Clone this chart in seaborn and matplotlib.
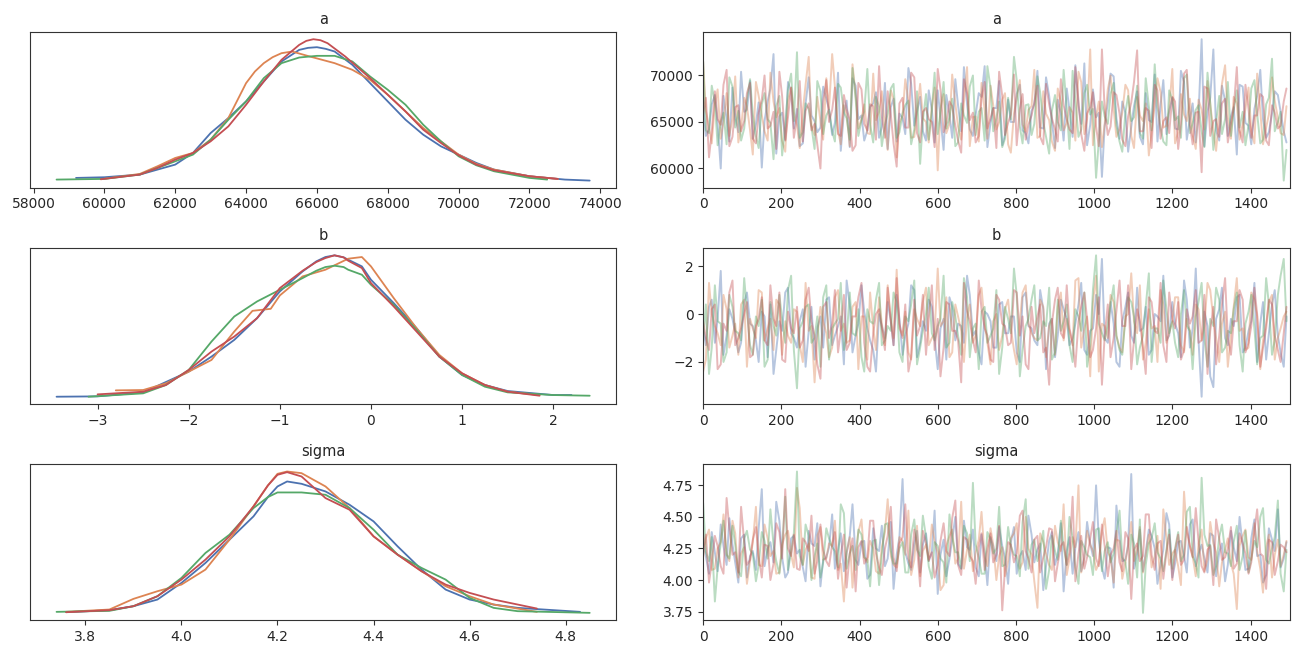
import numpy as np
import pandas as pd
import seaborn as sns
import matplotlib.pyplot as plt

sns.set_style("ticks")
plt.rcParams['font.family'] = ['DejaVu Sans']

chain_colors = ['#4c72b0', '#dd8452', '#55a868', '#c44e52']
params = ['a', 'b', 'sigma']

# ---- posterior density (relative height) ----
a_x_c0 = [59200, 60000, 61000, 62000, 62500, 63000, 63500, 64000, 64500, 65000, 65500, 65750, 66000, 66250,
          66500, 67000, 67500, 68000, 68500, 69000, 69500, 70000, 70500, 71000, 72000, 73000, 73700]
a_h_c0 = [10, 12, 20, 50, 85, 145, 190, 240, 300, 360, 395, 401, 403, 398,
          390, 350, 295, 240, 185, 140, 105, 80, 55, 35, 15, 5, 2]
a_x_c1 = [59900, 61000, 61500, 62000, 62500, 63000, 63500, 64000, 64250, 64500, 64750, 65000, 65300, 65800,
          66500, 67000, 67500, 68000, 68500, 69000, 69500, 70000, 70500, 71000, 72000, 72800]
a_h_c1 = [6, 22, 45, 70, 85, 125, 190, 295, 330, 355, 373, 385, 390, 375,
          355, 335, 305, 260, 210, 160, 120, 80, 52, 35, 15, 7]
a_x_c2 = [58650, 60000, 61000, 62000, 62500, 63000, 63500, 64000, 64500, 65000, 65500, 66000,
          66500, 67000, 67500, 68000, 68500, 69000, 69500, 70000, 70500, 71000, 72000, 72500]
a_h_c2 = [5, 7, 20, 60, 80, 125, 185, 240, 310, 355, 372, 377,
          377, 360, 315, 275, 230, 170, 120, 75, 48, 30, 10, 5]
a_x_c3 = [59900, 61000, 61500, 62000, 62500, 63000, 63500, 64000, 64500, 65000, 65500, 65700, 65900,
          66100, 66300, 66800, 67500, 68000, 68500, 69000, 69500, 70000, 70500, 71000, 72000, 72800]
a_h_c3 = [6, 20, 40, 65, 85, 120, 165, 230, 300, 365, 410, 422, 427,
          424, 415, 375, 310, 260, 210, 155, 115, 78, 50, 33, 15, 7]

b_x_c0 = [-3.45, -3.0, -2.5, -2.0, -1.75, -1.5, -1.25, -1.0, -0.75, -0.6, -0.5, -0.4, -0.3,
          -0.25, -0.1, 0.0, 0.25, 0.5, 0.75, 1.0, 1.25, 1.5, 2.0, 2.2]
b_h_c0 = [5, 6, 18, 80, 125, 175, 240, 320, 380, 410, 423, 428, 422,
          415, 395, 355, 285, 210, 125, 70, 40, 22, 10, 10]
b_x_c1 = [-2.8, -2.5, -2.25, -2.0, -1.75, -1.5, -1.3, -1.1, -1.0, -0.75, -0.5,
          -0.25, -0.1, 0.0, 0.25, 0.5, 0.75, 1.0, 1.25, 1.5, 1.85]
b_h_c1 = [24, 25, 45, 80, 115, 200, 262, 268, 308, 365, 385,
          418, 423, 395, 300, 210, 130, 75, 40, 20, 10]
b_x_c2 = [-3.1, -2.5, -2.25, -2.0, -1.75, -1.5, -1.25, -1.0, -0.75, -0.6, -0.5, -0.4, -0.3,
          -0.25, -0.1, 0.0, 0.25, 0.5, 0.75, 1.0, 1.25, 1.5, 2.0, 2.4]
b_h_c2 = [5, 15, 40, 85, 170, 245, 290, 325, 360, 382, 393, 397, 393,
          385, 370, 340, 280, 205, 125, 70, 35, 18, 10, 8]
b_x_c3 = [-3.0, -2.5, -2.25, -2.0, -1.75, -1.5, -1.25, -1.0, -0.75, -0.6, -0.5,
          -0.4, -0.3, -0.25, -0.1, 0.0, 0.25, 0.5, 0.75, 1.0, 1.25, 1.5, 1.85]
b_h_c3 = [12, 20, 40, 85, 140, 185, 240, 330, 382, 408, 420,
          428, 422, 412, 390, 345, 275, 200, 125, 75, 40, 20, 8]

s_x_c0 = [3.76, 3.85, 3.9, 3.95, 4.0, 4.05, 4.1, 4.15, 4.18, 4.2, 4.22, 4.25, 4.3, 4.35,
          4.37, 4.4, 4.45, 4.5, 4.55, 4.6, 4.65, 4.7, 4.83]
s_h_c0 = [4, 10, 22, 42, 92, 152, 222, 292, 350, 382, 397, 390, 367, 327,
          307, 277, 202, 132, 72, 42, 27, 17, 5]
s_x_c1 = [3.76, 3.85, 3.9, 3.95, 4.0, 4.05, 4.1, 4.15, 4.18, 4.2, 4.22, 4.25, 4.3, 4.35,
          4.4, 4.45, 4.5, 4.55, 4.6, 4.65, 4.74]
s_h_c1 = [5, 12, 44, 67, 87, 132, 222, 322, 385, 420, 427, 422, 382, 317,
          232, 177, 127, 82, 52, 27, 5]
s_x_c2 = [3.74, 3.85, 3.9, 3.95, 4.0, 4.05, 4.1, 4.15, 4.18, 4.2, 4.25, 4.3, 4.35, 4.4,
          4.45, 4.5, 4.55, 4.6, 4.65, 4.7, 4.85]
s_h_c2 = [5, 8, 22, 52, 107, 182, 237, 317, 350, 364, 364, 357, 317, 252,
          177, 137, 102, 47, 17, 7, 2]
s_x_c3 = [3.76, 3.85, 3.9, 3.95, 4.0, 4.05, 4.1, 4.15, 4.18, 4.2, 4.22, 4.25, 4.3, 4.35,
          4.4, 4.45, 4.5, 4.55, 4.6, 4.65, 4.74]
s_h_c3 = [4, 10, 22, 52, 102, 162, 232, 322, 385, 417, 425, 412, 347, 312,
          232, 177, 127, 87, 62, 42, 15]

# ---- traces: values every 15 draws, plus a second set 7 draws later ----
draws = list(range(0, 1500, 15))
draws_mid = list(range(7, 1500, 15))

a_c0 = [66800, 64200, 67900, 60000, 65300, 68700, 63900, 66100, 69400, 64800,
        60100, 67200, 72300, 65600, 63100, 68200, 66400, 62700, 69800, 65100,
        64400, 67500, 63600, 70300, 66000, 62300, 68900, 65700, 64100, 67000,
        63300, 69200, 66600, 62900, 65400, 70800, 64600, 67700, 63000, 66300,
        68400, 62000, 65800, 69600, 64000, 66900, 63500, 68100, 71000, 64900,
        66500, 62500, 67400, 65000, 69000, 63800, 66200, 70500, 64300, 67800,
        62200, 65900, 68600, 63400, 66700, 71300, 64700, 65500, 59100, 67100,
        69900, 63200, 66000, 64500, 68300, 62600, 65200, 70100, 66800, 63700,
        67600, 64200, 69300, 65300, 62800, 73900, 66100, 72800, 63000, 67300,
        65600, 61500, 68800, 64600, 66400, 70600, 63300, 65900, 67900, 64000]
a_c1 = [71500, 64500, 66900, 63200, 68100, 65400, 62800, 67600, 64100, 69300,
        65800, 63000, 67200, 66500, 61800, 68700, 64700, 66200, 72000, 63600,
        65100, 69700, 72300, 64000, 66800, 62400, 67900, 65300, 63800, 70200,
        66100, 64400, 68400, 61200, 65700, 67300, 63400, 69100, 65000, 66600,
        59800, 68000, 64800, 67000, 63100, 70900, 65500, 62900, 66300, 68900,
        64200, 67400, 62600, 65900, 69500, 64000, 66700, 63300, 68300, 65200,
        61900, 67100, 64900, 66000, 70400, 63700, 72800, 65600, 62300, 68500,
        66400, 64300, 69000, 63500, 67700, 65100, 61400, 66900, 68200, 64600,
        70700, 63900, 65800, 67500, 62100, 66300, 69400, 64100, 65700, 71100,
        63200, 67000, 64800, 68700, 62700, 66200, 64400, 69800, 65400, 63600]
a_c2 = [71500, 63800, 67100, 65000, 62600, 68800, 66200, 64300, 69600, 63500,
        66900, 65300, 61000, 67800, 64600, 70200, 72500, 63900, 66400, 62100,
        68300, 65700, 64000, 69100, 66000, 63100, 67500, 65200, 70700, 62800,
        66600, 64700, 68600, 63300, 65900, 67300, 64200, 60500, 68000, 66300,
        63700, 69300, 65500, 62400, 67000, 64900, 70000, 66100, 63000, 68700,
        65400, 62300, 67600, 72000, 64500, 66800, 63600, 69900, 65000, 61600,
        67900, 64100, 66500, 70500, 63400, 68100, 65800, 59000, 67200, 64800,
        69200, 62900, 66000, 65100, 68900, 63200, 66700, 71200, 64400, 62500,
        67400, 65600, 69700, 63800, 66300, 64000, 70300, 62000, 67800, 65300,
        63500, 68400, 66100, 64700, 69500, 62700, 66900, 71800, 65000, 58700]
a_c3 = [65900, 61200, 68300, 64700, 70600, 63400, 66800, 65100, 69200, 62700,
        67400, 64300, 66100, 70400, 63000, 68700, 65600, 62900, 67000, 64800,
        60000, 69500, 66300, 63700, 67900, 65200, 62500, 68500, 64100, 66700,
        71000, 63300, 65800, 60200, 67600, 64400, 69800, 62800, 66500, 65000,
        70700, 63900, 67200, 64600, 61700, 68100, 66000, 63500, 69300, 65400,
        62200, 67800, 64900, 70100, 66400, 63100, 65700, 68900, 62600, 66900,
        64200, 69600, 65300, 63800, 67300, 61900, 66600, 64500, 72800, 63600,
        68200, 65900, 62400, 67100, 72700, 64000, 66200, 69000, 63200, 65500,
        67700, 62100, 70200, 64700, 66000, 59600, 68600, 65100, 63400, 67500,
        64900, 70900, 62800, 66400, 65700, 68000, 63000, 66800, 64300, 67200]

a_c0_mid = [63500, 66900, 64800, 67800, 62900, 65600, 70400, 66300, 63200, 67100,
            65100, 68600, 61600, 66000, 69300, 64300, 62400, 67000, 65700, 63900,
            68800, 66400, 64900, 61900, 67300, 69700, 65300, 63000, 66600, 68200,
            64500, 62100, 67500, 65900, 63700, 69100, 66100, 64000, 68400, 62800,
            65500, 67900, 63300, 66800, 70900, 64200, 65800, 67700, 62300, 66500,
            69400, 63600, 65000, 68000, 64100, 62700, 66900, 64400, 69800, 65100,
            67400, 63000, 66300, 71100, 64800, 62500, 68500, 66000, 64600, 70200,
            65400, 67200, 61800, 66700, 63400, 68100, 65000, 62900, 69500, 66200,
            64300, 70500, 63100, 67000, 65700, 62400, 67600, 64100, 68900, 63500,
            66600, 69000, 64900, 62600, 67800, 65300, 63900, 68300, 66100, 62800]
a_c1_mid = [66200, 62700, 68500, 65000, 63500, 69900, 64400, 66700, 61500, 67800,
            64000, 70300, 65500, 63000, 67300, 66000, 62200, 69000, 64600, 67700,
            63100, 66400, 68800, 62600, 65800, 71200, 64300, 66900, 63700, 65200,
            68300, 62000, 67500, 64900, 69600, 63300, 66100, 65400, 62800, 68700,
            66500, 63800, 70100, 64500, 67100, 62400, 65600, 69200, 63200, 66800,
            65000, 68100, 61700, 67600, 64700, 66300, 70600, 63500, 65900, 62900,
            68600, 64100, 66600, 63000, 69300, 65300, 62500, 67200, 64800, 70000,
            63400, 66000, 68400, 62200, 65700, 67000, 63900, 69700, 64400, 66200,
            62700, 68000, 65100, 63600, 67400, 64200, 66900, 61900, 69100, 65500,
            67700, 63100, 66400, 64000, 70200, 62600, 65800, 67300, 63800, 66700]
a_c2_mid = [64100, 68900, 62500, 66000, 69800, 64400, 63000, 67400, 65800, 62200,
            68100, 64900, 66700, 61400, 68500, 65100, 63300, 67000, 64500, 69400,
            63700, 66300, 62900, 68700, 65400, 70800, 63500, 66100, 64700, 67700,
            62400, 65900, 69100, 63900, 66800, 62600, 68300, 65200, 63100, 70300,
            66000, 64300, 67500, 62800, 65700, 68800, 63600, 66500, 71000, 64000,
            67200, 63200, 65300, 69500, 62700, 66900, 64800, 68200, 63400, 66200,
            65000, 70600, 62100, 67300, 64200, 69000, 66400, 63000, 65600, 68000,
            64600, 61800, 67800, 65500, 63800, 69700, 64100, 66600, 62900, 68400,
            65200, 63300, 70100, 64900, 66800, 62300, 67100, 65000, 63700, 69300,
            66300, 64400, 62500, 68600, 65900, 63100, 67600, 64000, 66100, 62000]
a_c3_mid = [67600, 63900, 65300, 69000, 62400, 66600, 64000, 68100, 63200, 66000,
            70000, 64600, 62100, 67800, 65500, 63300, 69400, 66200, 64100, 62600,
            67200, 65000, 68700, 63500, 66400, 61900, 69200, 64800, 66900, 63100,
            65600, 68300, 62700, 67000, 64400, 70300, 63800, 66100, 65300, 62300,
            68500, 64900, 66700, 63000, 69600, 65200, 62800, 67500, 64300, 66500,
            70400, 63600, 65800, 62500, 68000, 64700, 67100, 63400, 69100, 65400,
            62900, 66800, 64200, 70900, 63700, 65900, 68200, 62400, 66300, 64500,
            67900, 63100, 65600, 69300, 64000, 66500, 62200, 68400, 65100, 63800,
            67200, 64800, 70600, 62600, 66100, 68800, 63500, 65300, 67000, 62800,
            66400, 64100, 69000, 63300, 65700, 67700, 62500, 66000, 64600, 68600]

b_c0 = [-0.6, 0.3, -1.2, 1.8, -0.9, -0.2, -1.6, 0.5, -0.4, -1.1,
        0.1, -1.8, -2.5, -0.3, 0.9, -0.8, -1.4, 0.2, -0.7, -1.9,
        -0.1, 0.6, -1.3, -0.5, -2.1, 0.4, -0.9, 1.2, -0.6, -1.5,
        0.0, -1.0, -0.3, 0.8, -1.7, -0.4, 1.0, -1.2, -0.7, 0.3,
        -2.3, -0.2, 0.7, -1.1, -0.5, 1.6, -0.9, -1.6, 0.1, -0.3,
        -1.4, 0.5, -0.8, -0.1, -2.0, 0.9, -0.6, -1.3, 0.2, -0.4,
        -1.8, 0.6, -0.2, -1.0, 0.4, -1.5, -0.7, 0.8, 2.3, -1.2,
        -0.4, -2.2, 0.3, -0.9, 1.1, -0.6, -1.7, 0.0, -0.3, -1.1,
        0.5, -0.8, 1.4, -1.4, 1.9, -3.45, -0.5, -3.05, 0.2, -1.0,
        -0.2, 0.7, -1.6, -0.7, 1.3, -0.4, -1.9, 0.4, -0.9, -2.2]
b_c1 = [-2.4, 1.3, -0.5, -1.3, 0.2, -0.9, -1.7, 0.6, -0.2, -1.0,
        0.9, -0.6, -1.5, 0.4, -0.3, -1.2, 0.1, -2.0, -0.7, -2.85,
        0.3, -0.8, -1.4, 1.0, -0.4, -1.1, 0.5, -0.1, -1.9, -0.6,
        0.7, -1.3, -0.2, 1.85, -0.9, -1.6, 0.2, -0.5, 1.1, -1.0,
        1.9, -0.3, -1.8, 0.4, -0.7, -0.1, -1.2, 0.8, -0.4, -2.1,
        0.0, -0.9, 0.6, -1.5, -0.3, 1.2, -0.8, -1.1, 0.3, -0.5,
        -1.7, 0.9, -0.2, -1.3, 1.5, -0.6, -2.6, 1.6, -0.4, -1.0,
        0.5, -1.4, -0.1, 1.7, -0.8, -1.9, 0.2, -0.5, 1.0, -1.2,
        -0.3, 0.7, -1.6, -0.7, 0.4, -1.1, 1.3, -0.2, -2.0, 0.1,
        -0.9, 1.5, -0.6, -1.4, 0.6, -2.3, -0.4, 0.8, -1.0, -0.1]
b_c2 = [-1.1, -2.5, 1.2, -0.4, -1.6, 0.3, -0.8, 1.5, -1.3, -0.1,
        0.6, -1.9, -0.5, 0.8, -1.2, 1.6, -3.1, -0.3, 0.4, -1.0,
        -2.2, 1.2, -0.6, -0.2, -1.5, 0.9, -0.9, -1.8, 0.2, -0.4,
        1.3, -1.1, -0.7, 0.5, -2.0, -0.3, 1.4, -1.4, 0.0, -0.8,
        -0.5, 1.6, -1.2, -0.1, -1.7, 0.7, -0.6, -2.3, 0.3, -0.9,
        1.0, -1.4, -0.2, 1.9, -2.6, -0.5, 0.6, -1.1, -0.3, 1.1,
        -1.6, -0.7, 0.4, -2.0, -0.1, 0.9, -1.3, 2.45, -0.8, -0.4,
        1.2, -1.5, -0.2, 0.5, -2.1, -0.9, 1.7, -0.6, -1.2, 0.2,
        -0.3, -1.8, 1.0, -0.7, -0.1, 1.3, -2.2, -0.5, 0.6, -1.4,
        -0.8, 0.9, -2.4, 0.1, -0.6, -1.0, 1.5, -1.7, 0.8, 2.3]
b_c3 = [-0.3, -1.5, 0.4, -2.1, -0.7, 1.4, -1.0, 0.0, -1.8, -0.5,
        0.7, -1.3, -0.2, 0.9, -2.0, -0.6, 0.3, -1.1, 1.1, -0.9,
        -2.7, 0.5, -0.4, -1.6, 0.8, -1.2, -0.1, 1.3, -2.2, -0.8,
        0.2, -1.5, -0.3, 1.5, -1.0, -2.4, 0.6, -0.5, -1.7, 1.2,
        -0.2, -1.4, 0.4, -0.7, -2.85, 0.1, -1.1, 1.4, -0.6, -1.9,
        0.8, -0.4, -1.3, 1.0, -0.9, -2.1, 0.3, -0.1, -1.6, -2.95,
        0.6, -0.8, 1.2, -1.2, -0.3, 0.9, -1.8, -0.6, -2.95, 0.4,
        -1.0, 1.4, -0.5, -2.3, 0.2, -1.4, 0.7, -0.7, 1.3, -2.0,
        -0.2, 0.5, -1.5, -0.4, 1.0, -1.1, -2.5, 0.3, -0.9, 1.5,
        -1.7, -0.3, 0.6, -1.2, 1.1, -2.2, -0.6, 0.4, -1.5, -0.8]

b_c0_mid = [-1.3, 0.6, -0.2, -1.7, 0.2, -0.8, -1.2, 0.9, -0.5, -2.0,
            -0.1, 0.4, -1.5, -0.7, 1.1, -1.0, -0.3, -2.2, 0.3, -0.6,
            -1.4, 0.7, -0.9, -0.1, 1.4, -1.6, -0.4, 0.1, -1.1, -2.4,
            -0.5, 0.5, -1.3, -0.2, -0.9, 1.2, -1.8, -0.3, 0.6, -1.0,
            -0.6, -1.9, 0.3, -0.4, -1.2, 0.8, -0.7, -2.1, 0.0, -1.4,
            0.4, -0.8, -0.1, -1.6, 0.7, -0.5, -1.1, 1.0, -2.3, -0.2,
            -0.9, 0.2, -1.3, -0.4, 1.3, -1.7, -0.6, 0.0, -1.0, 0.5,
            -2.0, -0.3, 0.9, -1.2, -0.7, 0.3, -1.5, -0.1, 1.6, -0.9,
            -0.4, -1.8, 0.6, -0.6, -1.1, 0.1, -2.6, -0.2, 1.1, -1.3,
            -0.5, 0.8, -1.4, -0.3, -2.0, 0.5, -0.8, 1.0, -1.6, -0.1]
b_c1_mid = [-1.9, 0.0, -0.8, 0.8, -1.4, -0.4, 0.4, -2.2, -0.6, 1.0,
            -1.1, -0.2, 0.6, -1.7, -0.9, 0.2, -1.3, 1.3, -0.5, -1.0,
            -0.3, -1.8, 0.7, -0.7, -1.2, 0.3, -2.3, -0.1, 0.9, -1.5,
            -0.4, 1.2, -1.0, -0.6, 0.1, -1.9, -0.2, 0.5, -1.3, -0.8,
            -0.5, 0.7, -1.6, -0.1, -2.0, 0.4, -0.9, 1.1, -1.2, -0.3,
            -1.5, 0.2, -0.6, -2.1, 0.9, -0.4, -1.0, 0.6, -1.8, -0.2,
            0.3, -1.1, -0.7, 1.4, -1.4, -0.1, 0.5, -2.4, -0.5, 0.8,
            -0.9, -1.6, 0.0, -0.3, 1.2, -1.2, -0.6, -2.0, 0.4, -0.8,
            0.7, -1.3, -0.2, -1.7, 0.2, -0.5, 1.0, -1.0, -0.4, -2.2,
            0.3, -0.7, -1.5, 0.9, -0.1, -1.1, 0.5, -1.9, -0.6, 0.1]
b_c2_mid = [0.4, -1.4, -0.3, -2.0, 0.8, -0.7, -1.1, 0.1, -1.7, -0.5,
            -2.2, 0.5, -0.9, -0.2, 1.0, -1.5, -0.6, 0.3, -1.2, -0.1,
            0.7, -1.9, -0.4, 1.3, -1.0, -0.8, 0.2, -2.4, -0.3, 0.6,
            -1.3, -0.5, 0.9, -1.6, -0.1, 0.4, -2.1, -0.7, 1.1, -1.1,
            -0.2, -1.4, 0.5, -0.9, 1.5, -1.8, -0.4, 0.1, -1.2, -0.6,
            -2.5, 0.3, -0.8, 0.8, -1.5, -0.2, 1.2, -1.0, -0.5, -1.9,
            0.6, -0.3, -1.3, 0.2, -0.7, -2.2, 1.0, -0.4, -1.1, 0.4,
            -0.9, -1.7, 0.7, -0.1, -1.4, 0.3, -2.0, -0.6, 1.4, -0.8,
            -1.2, 0.0, -0.5, -2.3, 0.5, -1.0, -0.2, 1.1, -1.6, -0.7,
            0.2, -1.3, -0.4, 0.8, -2.1, -0.9, 0.4, -1.1, 1.6, -0.3]
b_c3_mid = [-1.0, 0.2, -2.3, -0.4, 0.9, -1.3, -0.6, 0.5, -1.7, -0.2,
            -1.1, 1.2, -0.5, -1.9, 0.1, -0.8, -1.4, 0.6, -0.3, -2.1,
            0.3, -1.0, 1.0, -0.7, -1.5, -0.1, 0.7, -1.2, -2.4, 0.0,
            -0.6, 1.1, -1.3, -0.4, 0.4, -1.8, -0.9, 0.8, -0.2, -1.5,
            -2.6, 0.5, -0.7, -1.1, 1.3, -0.3, -1.6, 0.2, -0.9, -2.0,
            0.6, -0.5, -1.2, 0.9, -0.1, -2.3, -0.8, 0.4, -1.4, -0.4,
            1.1, -1.0, -0.6, -2.2, 0.3, -0.2, -1.5, 0.7, -0.9, -1.8,
            0.1, -0.5, 1.2, -1.1, -0.3, -2.5, 0.5, -0.8, -1.3, 0.9,
            -0.6, -1.9, 0.2, -0.1, -1.2, 0.8, -0.7, -2.1, 0.4, -1.0,
            -0.3, 1.0, -1.6, -0.5, 0.0, -1.4, 0.6, -0.9, -2.0, 0.3]

s_c0 = [4.31, 4.05, 4.22, 4.44, 4.12, 4.28, 3.98, 4.36, 4.19, 4.08,
        4.72, 4.25, 4.14, 4.47, 4.02, 4.33, 4.21, 4.10, 4.39, 4.27,
        3.95, 4.18, 4.52, 4.24, 4.07, 4.35, 4.16, 4.30, 4.01, 4.41,
        4.23, 4.11, 4.46, 4.20, 4.80, 4.13, 4.29, 4.06, 4.37, 4.22,
        3.89, 4.32, 4.17, 4.50, 4.09, 4.26, 4.40, 4.03, 4.21, 4.34,
        4.15, 4.27, 3.97, 4.42, 4.19, 4.08, 4.36, 4.24, 3.92, 4.31,
        4.12, 4.45, 4.23, 4.05, 4.38, 4.18, 4.29, 4.75, 4.10, 4.26,
        3.94, 4.33, 4.16, 4.84, 4.21, 4.07, 4.40, 4.25, 4.13, 4.53,
        4.02, 4.30, 4.19, 4.44, 4.11, 4.28, 4.06, 4.35, 4.22, 3.99,
        4.39, 4.15, 4.27, 4.09, 4.48, 4.20, 4.04, 4.32, 4.56, 4.17]
s_c1 = [4.18, 4.40, 4.09, 4.30, 4.21, 4.47, 4.02, 4.26, 4.15, 4.58,
        4.11, 4.33, 4.23, 4.06, 4.36, 4.20, 4.73, 4.12, 4.29, 4.01,
        4.42, 4.17, 4.27, 4.08, 3.83, 4.34, 4.22, 4.48, 4.14, 4.25,
        4.05, 4.38, 4.19, 4.10, 4.31, 4.55, 4.16, 4.03, 4.28, 4.44,
        4.21, 3.96, 4.35, 4.13, 4.62, 4.24, 4.07, 4.32, 4.18, 4.41,
        4.00, 4.26, 4.15, 4.37, 4.09, 4.50, 4.20, 3.78, 4.30, 4.12,
        4.43, 4.23, 4.04, 4.34, 4.75, 4.17, 4.28, 4.08, 4.39, 4.22,
        3.98, 4.31, 4.14, 4.46, 4.25, 4.06, 4.36, 4.19, 3.93, 4.33,
        4.21, 4.11, 4.70, 4.27, 4.03, 4.40, 4.16, 4.29, 3.95, 4.24,
        4.13, 3.77, 4.35, 4.18, 4.45, 4.09, 4.26, 4.02, 4.32, 4.20]
s_c2 = [4.61, 4.15, 3.83, 4.29, 4.20, 4.43, 4.07, 4.33, 4.24, 3.99,
        4.38, 4.17, 4.28, 4.05, 4.66, 4.22, 4.86, 4.12, 4.35, 4.19,
        4.02, 4.41, 4.26, 4.10, 4.53, 4.21, 4.08, 4.36, 4.16, 4.31,
        3.96, 4.44, 4.23, 4.13, 4.30, 4.06, 4.48, 4.19, 4.34, 4.01,
        4.27, 4.14, 4.52, 4.22, 4.09, 4.37, 4.77, 4.18, 4.05, 4.32,
        4.25, 4.11, 4.42, 4.20, 4.03, 4.64, 4.28, 4.15, 4.39, 4.08,
        4.23, 4.47, 4.12, 4.33, 3.97, 4.26, 4.18, 4.40, 4.07, 4.30,
        4.21, 4.55, 4.14, 4.36, 4.02, 3.74, 4.29, 4.45, 4.17, 4.24,
        4.09, 4.38, 4.20, 4.58, 4.13, 4.81, 4.27, 4.04, 4.34, 4.22,
        4.11, 4.43, 4.19, 4.06, 4.31, 4.50, 4.16, 4.25, 4.63, 3.91]
s_c3 = [4.24, 3.98, 4.35, 4.11, 4.65, 4.20, 4.06, 4.30, 4.16, 4.42,
        4.02, 4.27, 4.13, 4.38, 4.72, 4.19, 4.09, 4.33, 4.23, 4.05,
        4.44, 4.15, 4.28, 4.01, 4.36, 4.21, 3.91, 4.31, 4.18, 4.47,
        4.10, 4.25, 4.58, 4.07, 4.34, 4.17, 4.40, 3.95, 4.29, 4.22,
        4.12, 4.45, 4.19, 4.63, 4.04, 4.32, 4.15, 4.26, 4.08, 4.37,
        4.20, 3.76, 4.30, 4.14, 4.51, 4.23, 4.06, 4.35, 4.18, 4.41,
        3.99, 4.27, 4.12, 4.66, 4.21, 4.09, 4.33, 4.17, 4.44, 4.03,
        4.25, 4.14, 4.38, 3.85, 4.29, 4.19, 4.52, 4.08, 4.31, 4.22,
        4.00, 4.36, 4.16, 4.27, 4.57, 4.11, 4.24, 3.96, 4.33, 4.18,
        4.42, 4.13, 4.29, 4.05, 4.39, 4.21, 3.93, 4.30, 4.15, 4.26]

s_c0_mid = [4.19, 4.38, 4.07, 4.27, 4.49, 4.14, 4.33, 4.02, 4.23, 4.41,
            4.11, 4.30, 4.62, 4.18, 4.06, 4.35, 4.24, 3.99, 4.29, 4.45,
            4.16, 4.26, 4.09, 4.37, 4.21, 4.60, 4.12, 4.31, 4.04, 4.25,
            4.43, 4.17, 3.93, 4.34, 4.22, 4.08, 4.39, 4.28, 4.15, 4.55,
            4.20, 4.03, 4.32, 4.13, 4.47, 4.24, 4.10, 4.36, 3.96, 4.27,
            4.42, 4.18, 4.30, 4.05, 4.23, 4.51, 4.14, 4.29, 4.11, 4.38,
            4.20, 3.91, 4.34, 4.26, 4.07, 4.46, 4.19, 4.32, 4.01, 4.25,
            4.59, 4.15, 4.28, 4.09, 4.40, 4.22, 4.35, 3.97, 4.24, 4.44,
            4.13, 4.31, 4.06, 4.48, 4.21, 4.17, 4.37, 4.03, 4.29, 4.12,
            4.26, 4.50, 4.08, 4.33, 4.19, 3.98, 4.41, 4.23, 4.10, 4.30]
s_c1_mid = [4.33, 4.08, 4.25, 4.52, 4.15, 4.37, 4.21, 3.97, 4.30, 4.12,
            4.44, 4.19, 4.05, 4.28, 4.39, 4.10, 4.57, 4.24, 4.02, 4.35,
            4.16, 4.29, 4.47, 4.13, 4.22, 3.94, 4.38, 4.18, 4.31, 4.07,
            4.26, 4.64, 4.12, 4.34, 4.20, 4.04, 4.43, 4.23, 4.15, 4.31,
            3.92, 4.27, 4.40, 4.17, 4.09, 4.36, 4.22, 4.54, 4.11, 4.28,
            4.19, 4.03, 4.33, 4.45, 4.14, 4.25, 3.99, 4.37, 4.21, 4.08,
            4.30, 4.60, 4.17, 4.26, 4.06, 4.39, 4.23, 4.13, 4.49, 4.18,
            4.32, 4.01, 4.27, 4.15, 4.42, 4.20, 4.10, 4.35, 4.56, 4.12,
            4.24, 3.96, 4.38, 4.19, 4.29, 4.07, 4.46, 4.22, 4.14, 4.33,
            4.05, 4.27, 4.40, 4.16, 4.23, 3.90, 4.36, 4.20, 4.11, 4.31]
s_c2_mid = [4.22, 4.34, 4.10, 4.47, 4.17, 4.28, 4.03, 4.39, 4.21, 4.12,
            4.31, 4.56, 4.15, 4.26, 4.08, 4.37, 4.19, 4.44, 4.00, 4.29,
            4.14, 4.33, 4.23, 4.60, 4.09, 4.27, 4.40, 4.18, 3.95, 4.32,
            4.20, 4.45, 4.13, 4.25, 4.06, 4.36, 4.24, 4.51, 4.11, 4.30,
            4.17, 3.98, 4.34, 4.22, 4.43, 4.15, 4.28, 4.05, 4.38, 4.21,
            4.58, 4.12, 4.27, 4.19, 4.46, 4.09, 4.32, 4.24, 3.93, 4.35,
            4.16, 4.26, 4.50, 4.10, 4.31, 4.20, 4.04, 4.41, 4.23, 4.14,
            4.37, 4.18, 3.97, 4.29, 4.48, 4.12, 4.33, 4.22, 4.07, 4.40,
            4.25, 4.15, 4.54, 4.19, 4.02, 4.36, 4.28, 4.11, 4.44, 4.21,
            4.30, 4.08, 4.39, 4.17, 4.26, 4.57, 4.13, 4.34, 4.05, 4.24]
s_c3_mid = [4.36, 4.14, 4.27, 4.05, 4.41, 4.22, 4.58, 4.12, 4.32, 4.19,
            4.28, 4.00, 4.45, 4.17, 4.25, 4.36, 4.08, 4.30, 4.51, 4.15,
            4.24, 4.11, 4.38, 4.20, 3.94, 4.33, 4.26, 4.13, 4.47, 4.21,
            4.04, 4.35, 4.18, 4.29, 4.60, 4.10, 4.27, 4.39, 4.16, 4.02,
            4.31, 4.23, 4.49, 4.12, 4.34, 4.19, 3.97, 4.37, 4.25, 4.14,
            4.43, 4.09, 4.28, 4.21, 4.55, 4.17, 4.32, 4.06, 4.26, 4.40,
            4.13, 4.30, 4.22, 3.99, 4.35, 4.18, 4.46, 4.11, 4.27, 4.20,
            4.39, 4.07, 4.33, 4.24, 4.15, 4.52, 4.20, 4.29, 4.01, 4.36,
            4.23, 4.12, 4.42, 4.18, 4.31, 4.06, 4.27, 4.48, 4.16, 4.25,
            4.09, 4.37, 4.21, 4.14, 4.56, 4.19, 4.32, 4.04, 4.28, 4.22]

kde_x = {'a': [a_x_c0, a_x_c1, a_x_c2, a_x_c3],
         'b': [b_x_c0, b_x_c1, b_x_c2, b_x_c3],
         'sigma': [s_x_c0, s_x_c1, s_x_c2, s_x_c3]}
kde_h = {'a': [a_h_c0, a_h_c1, a_h_c2, a_h_c3],
         'b': [b_h_c0, b_h_c1, b_h_c2, b_h_c3],
         'sigma': [s_h_c0, s_h_c1, s_h_c2, s_h_c3]}
traces = {'a': [a_c0, a_c1, a_c2, a_c3],
          'b': [b_c0, b_c1, b_c2, b_c3],
          'sigma': [s_c0, s_c1, s_c2, s_c3]}
traces_mid = {'a': [a_c0_mid, a_c1_mid, a_c2_mid, a_c3_mid],
              'b': [b_c0_mid, b_c1_mid, b_c2_mid, b_c3_mid],
              'sigma': [s_c0_mid, s_c1_mid, s_c2_mid, s_c3_mid]}

kde_ticks = {'a': np.arange(58000, 74001, 2000),
             'b': [-3, -2, -1, 0, 1, 2],
             'sigma': [3.8, 4.0, 4.2, 4.4, 4.6, 4.8]}
trace_ticks = {'a': [60000, 65000, 70000],
               'b': [-2, 0, 2],
               'sigma': [3.75, 4.0, 4.25, 4.5, 4.75]}

fig, axes = plt.subplots(3, 2, figsize=(13, 6.56), dpi=100)
plt.subplots_adjust(left=0.023, right=0.992, bottom=0.055, top=0.951,
                    wspace=0.148, hspace=0.39)

for row, p in enumerate(params):
    # density
    ax = axes[row, 0]
    for c in range(4):
        d = pd.DataFrame({'x': kde_x[p][c], 'h': kde_h[p][c]})
        sns.lineplot(data=d, x='x', y='h', color=chain_colors[c], lw=1.3,
                     estimator=None, ax=ax)
    ax.set_yticks([])
    ax.set_xticks(kde_ticks[p])
    if p == 'sigma':
        ax.set_xticklabels([f'{t:.1f}' for t in kde_ticks[p]])
    ax.set_xlabel('')
    ax.set_ylabel('')
    ax.set_title(p, fontsize=10.5)

    # trace
    ax = axes[row, 1]
    for c in range(4):
        d = pd.DataFrame({'draw': draws + draws_mid,
                          'v': traces[p][c] + traces_mid[p][c]})
        sns.lineplot(data=d, x='draw', y='v', color=chain_colors[c], lw=1.4,
                     alpha=0.4, estimator=None, ax=ax)
    ax.set_xlim(0, 1500)
    ax.set_xticks(range(0, 1401, 200))
    ax.set_yticks(trace_ticks[p])
    if p == 'sigma':
        ax.set_yticklabels([f'{t:.2f}' for t in trace_ticks[p]])
    ax.set_xlabel('')
    ax.set_ylabel('')
    ax.set_title(p, fontsize=10.5)

for ax in axes.flat:
    ax.tick_params(labelsize=10, length=3.5, color='#333333')
    for s in ax.spines.values():
        s.set_color('#333333')

plt.savefig('out.png', dpi=100)
